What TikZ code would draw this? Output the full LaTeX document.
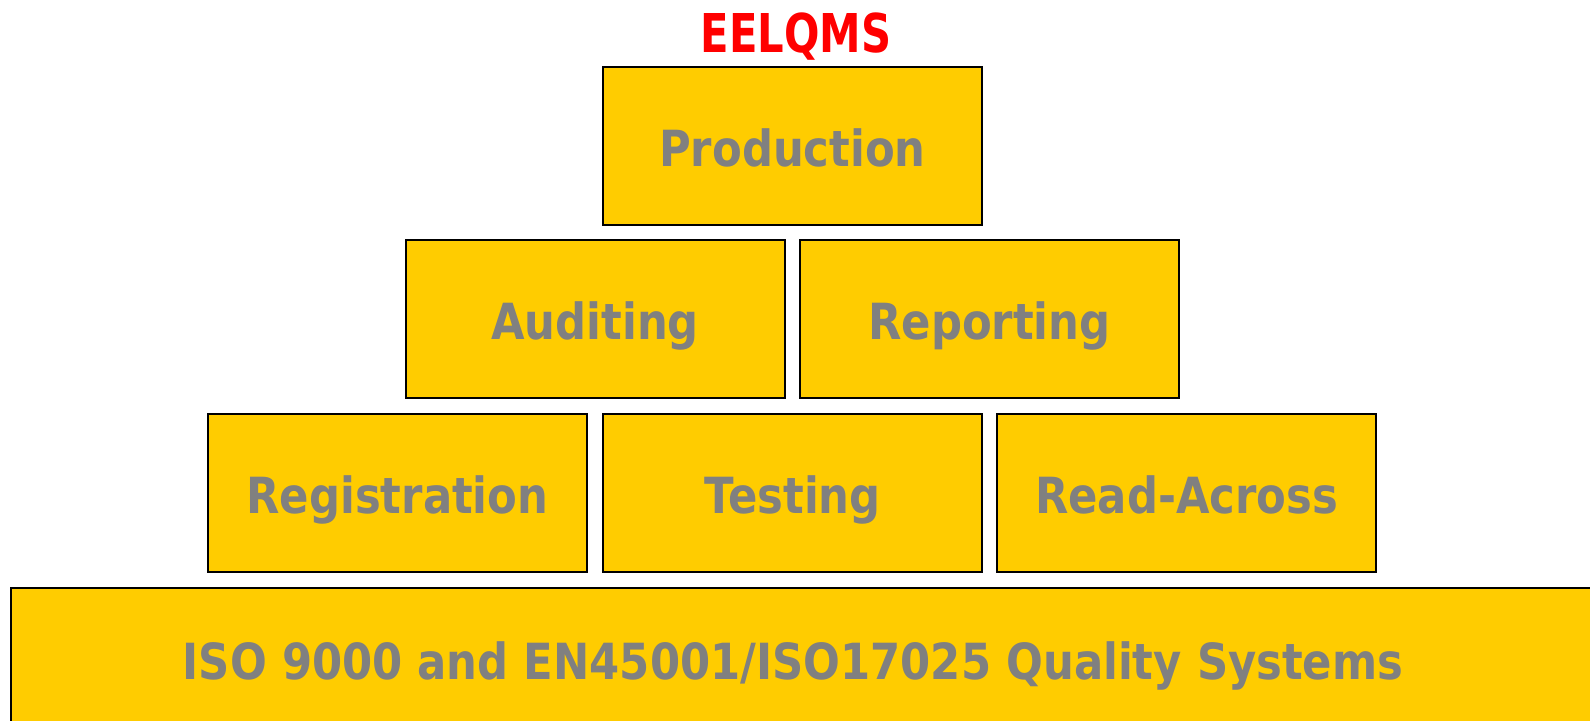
\documentclass[tikz,border=0pt]{standalone}
\usepackage{fontspec}
\usetikzlibrary{positioning}
\newfontfamily\boxfont{DejaVu Sans}[FakeStretch=0.87]
\newfontfamily\titlefont{DejaVu Sans}[FakeStretch=0.78]
\definecolor{QGold}{HTML}{FFCC00}
\definecolor{QGray}{HTML}{808080}
\definecolor{QRed}{HTML}{FF0000}

\begin{document}
\begin{tikzpicture}[x=0.5pt, y=-0.5pt,
    block/.style={draw=black, line width=1pt, fill=QGold, minimum width=189.5pt, minimum height=79pt,
        inner sep=0pt, text=QGray, font=\boxfont\bfseries\fontsize{24.9}{30}\selectfont,
        text height=24.9pt, text depth=4pt},
    blocktext/.style={inner sep=0pt, text=QGray, font=\boxfont\bfseries\fontsize{24.9}{30}\selectfont,
        text height=24.9pt, text depth=4pt}]
    \useasboundingbox (0,0) rectangle (1590,720);
    \clip (0,0) rectangle (1590,720);

    % Title
    \node[QRed, anchor=base, font=\titlefont\bfseries\fontsize{26.75}{32}\selectfont] (title) at (796,52) {EELQMS};

    % Top of the pyramid
    \node[block] (production) at (792.5,146) {Production};

    % Middle row
    \node[block] (auditing) at (595,319) {Auditing};
    \node[block] (reporting) at (989.5,319) {Reporting};

    % Lower row
    \node[block] (registration) at (397.5,493) {Registration};
    \node[block] (testing) at (792.5,493) {Testing};
    \node[block] (readacross) at (1186.5,493) {Read-Across};

    % Base (runs off the right and bottom edge)
    \node[block, overlay, minimum width=800pt, minimum height=71pt] (base) at (811,659) {};
    \node[blocktext] (basetext) at (793,659) {ISO 9000 and EN45001/ISO17025 Quality Systems};
\end{tikzpicture}
\end{document}
